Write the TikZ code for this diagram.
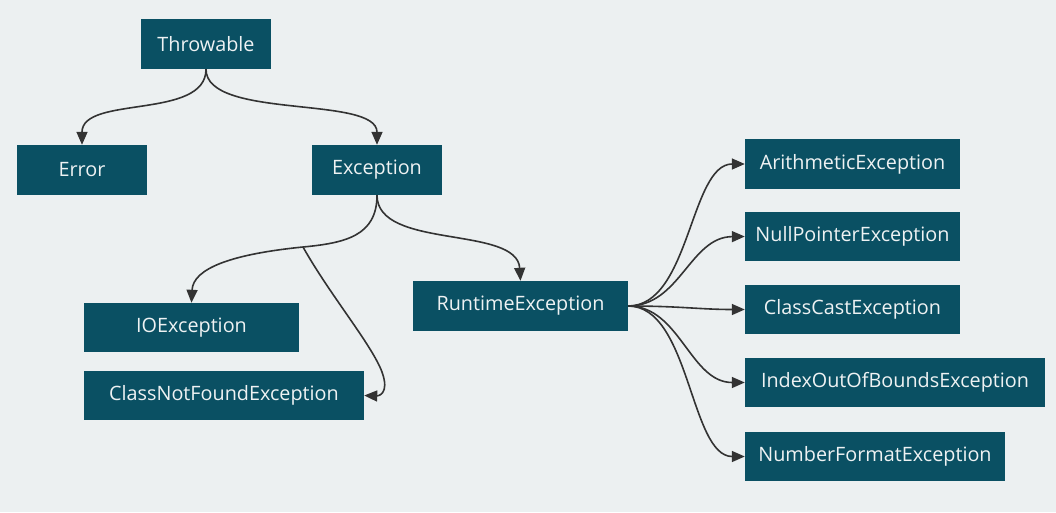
\documentclass[tikz,border=0pt]{standalone}
\usepackage{fontspec}
\setmainfont{Open Sans}
\usetikzlibrary{arrows.meta}
\definecolor{bg}{HTML}{ECF0F1}
\definecolor{boxc}{HTML}{0A5063}
\definecolor{txt}{HTML}{EEF2F3}
\definecolor{edge}{HTML}{333333}
\tikzset{
  cls/.style={fill=boxc, text=txt, inner sep=0pt, font=\fontsize{19.8}{23}\selectfont},
  link/.style={draw=edge, line width=1.6pt, -{Triangle[length=13pt,width=11pt]}},
  plain/.style={draw=edge, line width=1.6pt}
}
\newcommand{\boxnode}[6]{% name, x1, y1, x2, y2, text
  \node[cls, minimum width={(#4-#2)*1pt}, minimum height={(#5-#3)*1pt}] (#1) at ({(#2+#4)/2},{(#3+#5)/2}) {#6};}
\begin{document}
\begin{tikzpicture}[x=1pt,y=-1pt]
\fill[bg] (0,0) rectangle (1056,512);
\useasboundingbox (0,0) rectangle (1056,512);
\boxnode{thr}{141}{19}{271}{69}{Throwable}
\boxnode{err}{17}{145}{147}{195}{Error}
\boxnode{exc}{312}{145}{442}{195}{Exception}
\boxnode{ioe}{84}{303}{299}{352}{IOException}
\boxnode{cnf}{84}{371}{364}{420}{ClassNotFoundException}
\boxnode{rte}{413}{281}{628}{331}{RuntimeException}
\boxnode{ari}{745}{139}{960}{189}{ArithmeticException}
\boxnode{npe}{745}{212}{960}{261}{NullPointerException}
\boxnode{cce}{745}{285}{960}{334}{ClassCastException}
\boxnode{iob}{745}{358}{1045}{407}{IndexOutOfBoundsException}
\boxnode{nfe}{745}{432}{1005}{481}{NumberFormatException}
\coordinate (br) at (303,247);
% Throwable
\draw[link] (thr.south) .. controls (206,120) and (82,95) .. (err.north);
\draw[link] (thr.south) .. controls (206,120) and (377,95) .. (exc.north);
% Exception
\draw[link] (exc.south) .. controls (377,236) and (345,243) .. (br)
   .. controls (233,254) and (193,268) .. (ioe.north);
\draw[link] (br) .. controls (330,295) and (372,345) .. (382,372)
   .. controls (390,394) and (378,396) .. (cnf.east);
\draw[link] (exc.south) .. controls (377,250) and (517,225) .. (rte.north);
% RuntimeException
\draw[link] (rte.east) .. controls (690,306) and (690,164) .. (ari.west);
\draw[link] (rte.east) .. controls (680,306) and (690,237) .. (npe.west);
\draw[link] (rte.east) .. controls (680,306) and (700,309.5) .. (cce.west);
\draw[link] (rte.east) .. controls (680,306) and (690,382.5) .. (iob.west);
\draw[link] (rte.east) .. controls (690,306) and (690,456.5) .. (nfe.west);
\end{tikzpicture}
\end{document}
